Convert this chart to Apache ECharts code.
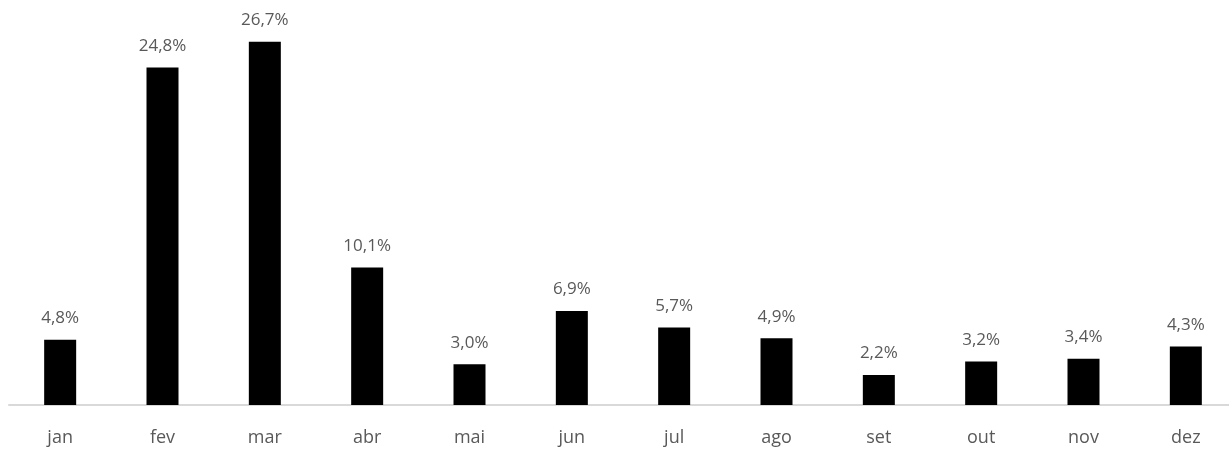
<!DOCTYPE html>
<html>
<head>
<meta charset="utf-8">
<script src="https://cdn.jsdelivr.net/npm/echarts@6/dist/echarts.min.js"></script>
<style>
html,body{margin:0;padding:0;background:#fff;}
#c{width:1229px;height:451px;}
</style>
</head>
<body>
<div id="c"></div>
<script>
const categories = ['jan','fev','mar','abr','mai','jun','jul','ago','set','out','nov','dez'];
const values = [4.8, 24.8, 26.7, 10.1, 3.0, 6.9, 5.7, 4.9, 2.2, 3.2, 3.4, 4.3];

const chart = echarts.init(document.getElementById('c'), null, {renderer:'canvas'});
chart.setOption({
  animation: false,
  backgroundColor: '#ffffff',
  grid: {left: 9, width: 1228, top: 24, height: 381, containLabel: false, outerBoundsMode: 'none'},
  xAxis: {
    type: 'category',
    data: categories,
    axisLine: {show: true, lineStyle: {color: '#d9d9d9', width: 2}},
    axisTick: {show: false},
    axisLabel: {color: '#595959', fontSize: 18, fontFamily: 'Open Sans', margin: 24}
  },
  yAxis: {
    type: 'value',
    min: 0, max: 28,
    show: false,
    splitLine: {show: false}
  },
  series: [{
    type: 'bar',
    data: values,
    barWidth: 32,
    itemStyle: {color: '#000000'},
    label: {
      show: true,
      position: 'top',
      distance: 13,
      color: '#595959',
      fontSize: 17,
      fontFamily: 'Open Sans',
      formatter: p => p.value.toFixed(1).replace('.', ',') + '%'
    }
  }]
});
</script>
</body>
</html>
